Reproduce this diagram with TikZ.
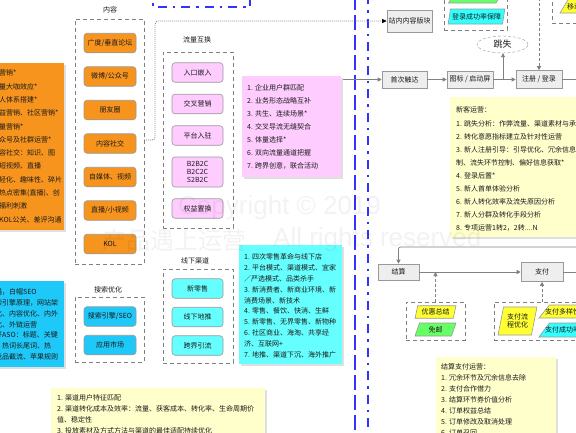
\documentclass[tikz,border=0pt]{standalone}
\usepackage{fontspec}
\setmainfont{Noto Sans CJK SC}
\newfontfamily\wmfont{Liberation Sans}
\usetikzlibrary{shapes.geometric,arrows.meta,shadows}
\definecolor{orangeC}{HTML}{F7941E}
\definecolor{pinkC}{HTML}{FFCCFF}
\definecolor{aquaC}{HTML}{66FFFF}
\definecolor{skyC}{HTML}{1EC8F8}
\definecolor{noteY}{HTML}{FFFFCC}
\definecolor{yelC}{HTML}{FFFF33}
\definecolor{grnC}{HTML}{66FF66}
\definecolor{cyC}{HTML}{33FFFF}
\definecolor{grayB}{HTML}{999999}
\definecolor{grayF}{HTML}{EEEEEE}
\definecolor{blueL}{HTML}{3333FF}
\definecolor{lineC}{HTML}{808080}
\definecolor{txtC}{HTML}{1A1A1A}
\tikzset{
  every node/.style={text=txtC},
  lbl/.style={font=\fontsize{7}{8}\selectfont, inner sep=0},
  bx/.style={draw=grayB, rounded corners=3pt, minimum width=52pt, minimum height=19.5pt, inner sep=0, font=\fontsize{7}{8}\selectfont, line width=0.6pt},
  obox/.style={bx, fill=orangeC},
  pbox/.style={bx, fill=pinkC, minimum width=51pt},
  abox/.style={bx, fill=aquaC, minimum width=51pt},
  sbox/.style={bx, fill=skyC},
  grp/.style={draw=lineC, dash pattern=on 4pt off 3pt, line width=0.8pt, inner sep=0},
  note/.style={inner sep=0, anchor=north west, drop shadow={shadow xshift=1.5pt, shadow yshift=-1.5pt, opacity=0.25}},
  ntext/.style={inner sep=0, align=left, anchor=north west},
  flowbox/.style={draw=grayB, fill=grayF, inner sep=0, minimum height=17pt, font=\fontsize{7}{8}\selectfont, line width=0.6pt},
  para/.style={trapezium, trapezium left angle=75, trapezium right angle=105, trapezium stretches=true, draw=grayB, inner xsep=1pt, inner ysep=1pt, font=\fontsize{7}{8.5}\selectfont, line width=0.6pt},
  conn/.style={draw=lineC, line width=0.7pt, -{Triangle[length=4pt,width=4pt]}},
  plain/.style={draw=lineC, line width=0.7pt},
  dconn/.style={draw=lineC, line width=0.7pt, dash pattern=on 3pt off 2pt, -{Triangle[length=4pt,width=4pt]}},
  dotconn/.style={draw=black!60, line width=0.8pt, dash pattern=on 0.8pt off 1.2pt, -{Triangle[length=4.5pt,width=4pt,color=black]}},
  bluedash/.style={draw=blueL, line width=1.8pt, dash pattern=on 15pt off 5pt},
  bluedashdot/.style={draw=blueL, line width=1.8pt, dash pattern=on 9pt off 6pt on 2.5pt off 6pt},
  wm/.style={inner sep=0, text=black, text opacity=0.05, anchor=west}
}
\begin{document}
\begin{tikzpicture}[x=1pt,y=-1pt]
\useasboundingbox (0,0) rectangle (576,432);
\clip (0,0) rectangle (576,432);
\fill[white] (0,0) rectangle (576,432);

% ---- left notes ----
\node[note, fill=orangeC, minimum width=80pt, minimum height=167pt] (nO) at (-16,63) {};
\node[ntext, font=\fontsize{7}{13.3}\selectfont] (nOt) at (-1,69.8) {营销*\\量大咖效应*\\人体系搭建*\\益营销、社区营销*\\量营销*\\众号及社群运营*\\容社交：知识、图\\短视频、直播\\轻化、趣味性、碎片\\热点密集(直播)、创\\福利刺激\\KOL公关、差评沟通};

\node[note, fill=skyC, minimum width=80pt, minimum height=86pt] (nS) at (-16,281) {};
\node[ntext, font=\fontsize{7}{10.7}\selectfont] (nSt) at (-5,288.8) {遇，白帽SEO\\索引擎原理，网站架\\化、内容优化、内外\\化、外链运营\\好ASO：标题、关键\\、热词长尾词、热\\竞品截流、苹果规则};

% ---- groups ----
\node[lbl] (tNR) at (110,10) {内容};
\node[grp, minimum width=69pt, minimum height=245pt] (gNR) at (109.5,141.5) {};
\node[lbl] (tLL) at (197,40) {流量互换};
\node[grp, minimum width=70pt, minimum height=176pt] (gLL) at (198,140) {};
\node[lbl] (tXX) at (195,261) {线下渠道};
\node[grp, minimum width=70pt, minimum height=94pt] (gXX) at (198,316) {};
\node[lbl] (tSS) at (108,290) {搜索优化};
\node[grp, minimum width=69pt, minimum height=65pt] (gSS) at (109.5,329.5) {};

% ---- boxes ----
\node[obox] (nr1) at (110,43) {广度/垂直论坛};
\node[obox] (nr2) at (110,76.5) {微博/公众号};
\node[obox] (nr3) at (110,110) {朋友圈};
\node[obox] (nr4) at (110,143.5) {内容社交};
\node[obox] (nr5) at (110,177) {自媒体、视频};
\node[obox] (nr6) at (110,210.5) {直播/小视频};
\node[obox] (nr7) at (110,244) {KOL};

\node[pbox] (ll1) at (197.5,72.5) {入口嵌入};
\node[pbox] (ll2) at (197.5,104) {交叉营销};
\node[pbox] (ll3) at (197.5,135.5) {平台入驻};
\node[pbox, minimum height=30pt, align=center] (ll4) at (197.5,172) {B2B2C\\B2C2C\\S2B2C};
\node[pbox] (ll5) at (197.5,208.5) {权益置换};

\node[abox] (xx1) at (197.5,288.5) {新零售};
\node[abox] (xx2) at (197.5,317) {线下地推};
\node[abox] (xx3) at (197.5,345.5) {跨界引流};

\node[sbox] (ss1) at (110,316.5) {搜索引擎/SEO};
\node[sbox] (ss2) at (110,345) {应用市场};

% ---- middle notes ----
\node[note, fill=pinkC, minimum width=99pt, minimum height=101pt] (nP) at (242,76) {};
\node[ntext, font=\fontsize{7}{13}\selectfont] (nPt) at (247,84.8) {1. 企业用户群匹配\\2. 业务形态战略互补\\3. 共生、连续场景*\\4. 交叉导流无缝契合\\5. 体量选择*\\6. 双向流量通道把握\\7. 跨界创意，联合活动};

\node[note, fill=aquaC, minimum width=103pt, minimum height=119pt] (nA) at (239,245) {};
\node[ntext, font=\fontsize{7}{10.8}\selectfont] (nAt) at (244,253.8) {1. 四次零售革命与线下店\\2. 平台模式、渠道模式、宜家\\／严选模式、品类杀手\\3. 新消费者、新商业环境、新\\消费场景、新技术\\4. 零售、餐饮、快消、生鲜\\5. 新零售、无界零售、新物种\\6. 社区商业、海淘、共享经\\济、互联网+\\7. 地推、渠道下沉、海外推广};

\node[note, fill=noteY, minimum width=214pt, minimum height=60pt] (nB) at (51,388) {};
\node[ntext, font=\fontsize{7}{11}\selectfont] (nBt) at (57,394.8) {1. 渠道用户特征匹配\\2. 渠道转化成本及效率：流量、获客成本、转化率、生命周期价\\值、稳定性\\3. 投放素材及方式方法与渠道的最佳适配持续优化};

% ---- blue lines ----
\draw[bluedash] (355,-5) -- (355,440);
\draw[bluedashdot] (368,-5) -- (368,440);
\draw[bluedashdot] (153,-12) -- (153,7) -- (250,7) -- (250,-12);

% ---- top right ----
\node[flowbox, minimum width=45pt, minimum height=22pt] (zhan) at (409.5,21) {站内内容版块};
\coordinate (cD) at (144,140);
\draw[dotconn, rounded corners=3pt] (cD) -- ++(11,0) |- (zhan.west);

\node[grp, minimum width=63pt, minimum height=50pt] (gLog) at (475.5,5) {};
\node[para, fill=grnC, minimum width=57pt, minimum height=15pt] (pg1) at (477,-4.5) {\phantom{移}};
\node[para, fill=cyC, minimum width=57pt, minimum height=15pt] (pg2) at (476.5,16.5) {登录成功率保障};

\node[grp, minimum width=60pt, minimum height=45pt] (gTR) at (582,0.5) {};
\node[para, fill=yelC, minimum width=50pt, minimum height=14pt] (pg3) at (585,6) {\phantom{移}};
\node[lbl, anchor=west] (pg3t) at (567,6.5) {移动};

\node[draw=grayB, dash pattern=on 3pt off 2pt, ellipse, minimum width=51pt, minimum height=17pt, inner sep=0, font=\fontsize{9}{10}\selectfont] (ts) at (502.5,44.5) {跳失};

\node[flowbox, minimum width=45pt] (sc) at (404.5,79.5) {首次触达};
\node[flowbox, minimum width=46pt] (tb) at (470,79.5) {图标 / 启动屏};
\node[flowbox, minimum width=46pt, minimum height=18pt] (zc) at (539,79.5) {注册 / 登录};
\coordinate (cL) at (343,79.5);
\coordinate (cB) at (503,79.5);
\coordinate (cR) at (580,79.5);
\coordinate (cTop) at (539,-2);
\draw[conn] (cL) -- (sc);
\draw[conn] (sc) -- (tb);
\draw[plain] (tb) -- (cB);
\draw[conn] (cB) -- (cB |- ts.south);
\draw[conn] (cB) -- (zc);
\draw[plain] (zc) -- (cR);
\draw[dconn] (cTop) -- (zc.north);

\node[note, fill=noteY, minimum width=150pt, minimum height=140pt] (nN) at (450,97) {};
\node[ntext, font=\fontsize{7}{13.1}\selectfont] (nNt) at (456,106.8) {新客运营：\\1. 跳失分析：作弊流量、渠道素材与承接\\2. 转化意愿指标建立及针对性运营\\3. 新人注册引导：引导优化、冗余信息控\\制、流失环节控制、偏好信息获取*\\4. 登录后置*\\5. 新人首单体验分析\\6. 新人转化效率及流失原因分析\\7. 新人分群及转化手段分析\\8. 专项运营1转2，2转....N};

% ---- bottom right flow ----
\coordinate (cR2) at (580,247);
\coordinate (cR3) at (580,272);
\node[flowbox, minimum width=41pt, minimum height=16pt] (js) at (398.5,272) {结算};
\node[flowbox, minimum width=42pt, minimum height=19pt] (zf) at (542,272) {支付};
\draw[conn, rounded corners=2pt] (cR2) -| (js.north);
\draw[conn] (js) -- (zf);
\draw[plain] (zf) -- (cR3);

\node[grp, minimum width=59pt, minimum height=38pt] (g1) at (435.5,321) {};
\node[para, fill=yelC, minimum width=41pt, minimum height=12.5pt] (yh) at (435.5,312) {优惠总结};
\node[para, fill=grnC, minimum width=41pt, minimum height=13pt] (my) at (435.5,329.5) {免邮};
\draw[dconn] (g1.north) -- (g1.north |- js.east);

\node[grp, minimum width=106pt, minimum height=38pt] (g2) at (547,321) {};
\node[para, fill=yelC, minimum width=39pt, minimum height=28pt, align=center] (zflc) at (517.5,321) {支付流\\程优化};
\node[para, fill=yelC, minimum width=62pt, minimum height=13pt] (dyx) at (570,311.5) {\phantom{移}};
\node[para, fill=cyC, minimum width=62pt, minimum height=14pt] (cgl) at (570,330) {\phantom{移}};
\node[lbl, anchor=west] (dyxt) at (545,311.5) {支付多样性};
\node[lbl, anchor=west] (cglt) at (545,330) {支付成功率保障};
\draw[dconn] (zf.south |- g2.north) -- (zf.south);

\node[note, fill=noteY, minimum width=120pt, minimum height=90pt] (nJ) at (436,357) {};
\node[ntext, font=\fontsize{7}{11}\selectfont] (nJt) at (441,363.8) {结算支付运营：\\1. 冗余环节及冗余信息去除\\2. 支付合作借力\\3. 结算环节券价值分析\\4. 订单权益总结\\5. 订单修改及取消处理\\6. 订单召回};

% ---- watermark ----
\node[wm, font=\wmfont\fontsize{26}{28}\selectfont] (wm1) at (178,208) {Copyright © 2019};
\node[wm, font=\fontsize{24}{26}\selectfont] (wm2) at (102,240) {产品遇上运营};
\node[wm, font=\wmfont\fontsize{26}{28}\selectfont] (wm3) at (273,240) {All rights reserved};
\end{tikzpicture}
\end{document}
